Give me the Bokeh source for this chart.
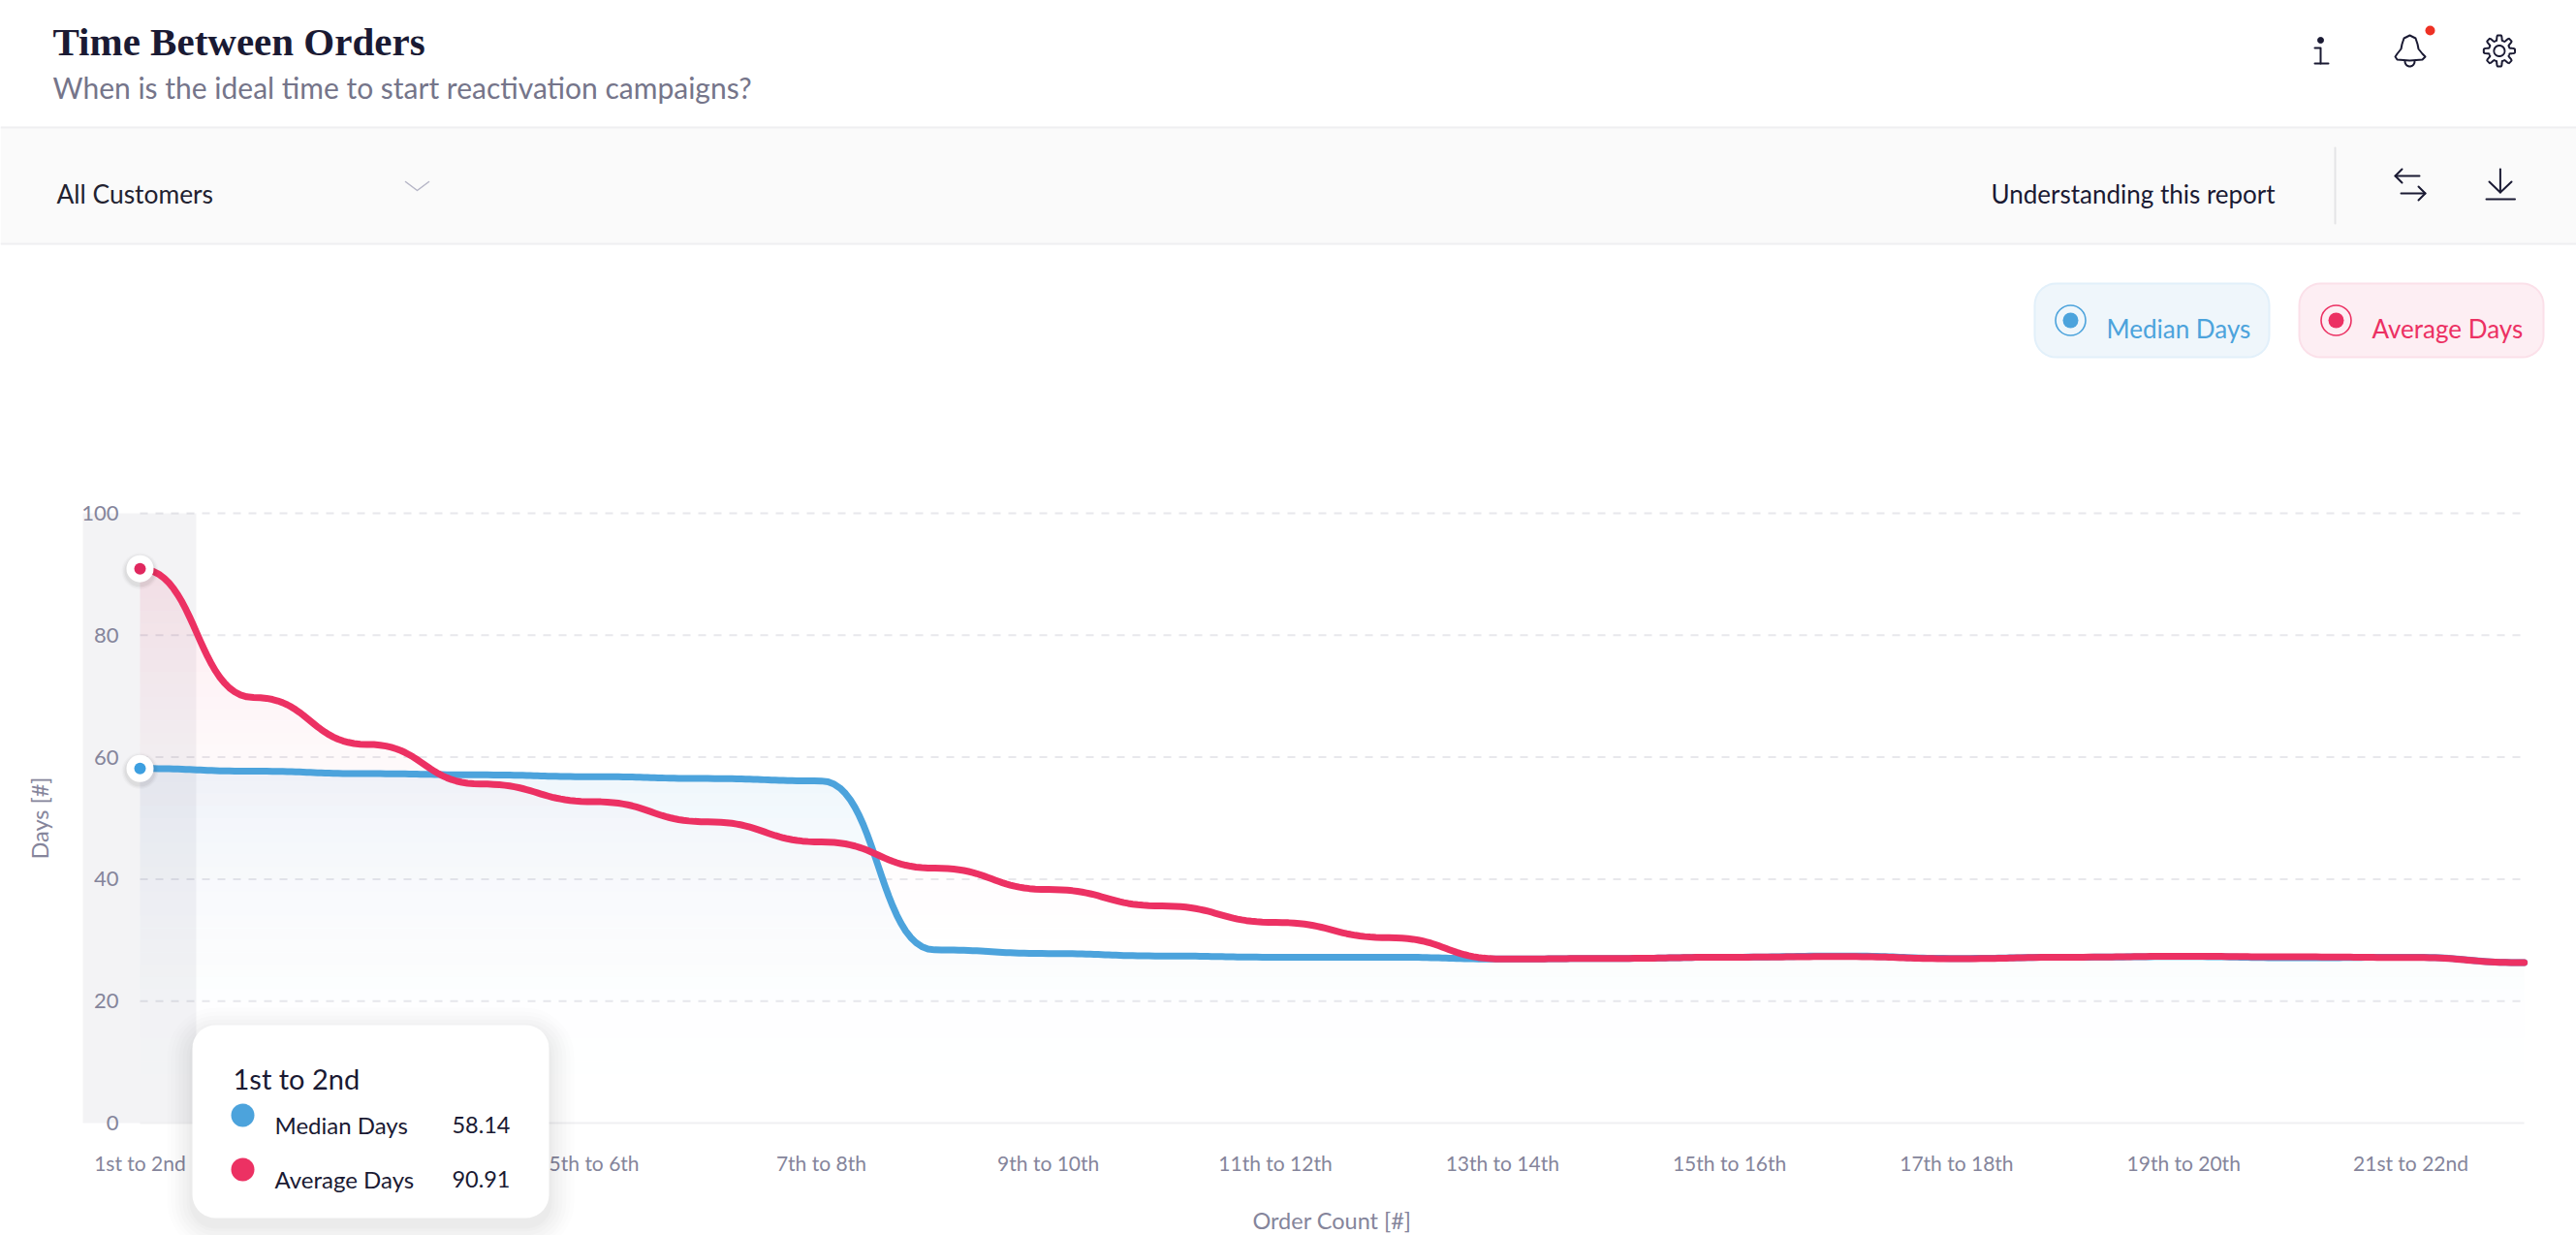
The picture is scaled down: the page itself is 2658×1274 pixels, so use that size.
import numpy as np
from bokeh.core.properties import value
from bokeh.embed import file_html
from bokeh.models import FixedTicker, LinearAxis, Range1d
from bokeh.plotting import figure
from bokeh.resources import INLINE

# ---------- data ----------
order_labels = ["1st to 2nd", "2nd to 3rd", "3rd to 4th", "4th to 5th", "5th to 6th", "6th to 7th",
                "7th to 8th", "8th to 9th", "9th to 10th", "10th to 11th", "11th to 12th", "12th to 13th",
                "13th to 14th", "14th to 15th", "15th to 16th", "16th to 17th", "17th to 18th", "18th to 19th",
                "19th to 20th", "20th to 21st", "21st to 22nd", "22nd to 23rd"]
median_days = [58.14, 57.7, 57.3, 57.1, 56.8, 56.5, 56.1, 28.4, 27.8, 27.4, 27.2,
               27.2, 26.9, 27.0, 27.2, 27.4, 27.0, 27.2, 27.3, 27.1, 27.2, 26.3]
average_days = [90.91, 69.8, 62.1, 55.6, 52.7, 49.4, 46.1, 41.8, 38.3, 35.6, 32.9,
                30.4, 26.9, 27.0, 27.2, 27.3, 26.95, 27.2, 27.35, 27.25, 27.15, 26.3]
y_ticks = [0, 20, 40, 60, 80, 100]
grid_ticks = [20, 40, 60, 80, 100]
x_tick_idx = list(range(0, 22, 2))

BLUE = "#4ca3dc"
RED = "#ec3163"
INK = "#1a1a33"
MUTED = "#85859b"
FONT = "Lato"

# page pixel -> data mapping of the plot
X0, DX = 144.0, 117.15
Y0, DY = 1158.0, 6.29
L, R, T, B = 0, 2658, 0, 1274

p = figure(width=R - L, height=B - T, output_backend="svg", toolbar_location=None,
           x_range=Range1d((L - X0) / DX, (R - X0) / DX),
           y_range=Range1d((Y0 - B) / DY, (Y0 - T) / DY),
           x_axis_location=None, y_axis_location=None, min_border=0,
           outline_line_color=None, background_fill_color="white", border_fill_color="white")
p.grid.visible = False
p.extra_x_ranges["px"] = Range1d(L, R)
p.extra_y_ranges["px"] = Range1d(B, T)
PX = dict(x_range_name="px", y_range_name="px")


def text(x, y, s, size, color, align="left", font=FONT, style="normal", level="annotation"):
    p.text(x=[x], y=[y], text=[s], text_font=value(font), text_font_size=value(f"{size}px"),
           text_color=color, text_align=align, text_baseline="alphabetic",
           text_font_style=style, level=level, **PX)


def stroke(xs, ys, color=INK, width=2.0, level="annotation"):
    p.line(xs, ys, line_color=color, line_width=width, line_cap="round", line_join="round", level=level, **PX)


def rrect(x0, y0, x1, y1, r, fill, line=None, alpha=1.0, level="annotation", lw=2):
    a = np.linspace(0, np.pi / 2, 10)
    xs = np.concatenate([x1 - r + r * np.sin(a), x1 - r + r * np.cos(a), x0 + r - r * np.sin(a), x0 + r - r * np.cos(a)])
    ys = np.concatenate([y0 + r - r * np.cos(a), y1 - r + r * np.sin(a), y1 - r + r * np.cos(a), y0 + r - r * np.sin(a)])
    p.patch(xs, ys, fill_color=fill, fill_alpha=alpha, line_color=line, line_width=lw, level=level, **PX)


def bump(values, n=24):
    """Curve through the values with level tangents at each of them."""
    xs, ys = [], []
    t = np.linspace(0, 1, n, endpoint=False)
    for i in range(len(values) - 1):
        y0, y1 = values[i], values[i + 1]
        xs.append(i + (3 * (1 - t) ** 2 * t * 0.5 + 3 * (1 - t) * t ** 2 * 0.5 + t ** 3))
        ys.append(y0 + (y1 - y0) * (3 * (1 - t) * t ** 2 + t ** 3))
    xs.append([len(values) - 1.0])
    ys.append([values[-1]])
    return np.concatenate(xs), np.concatenate(ys)


# ---------- header ----------
p.quad(left=[L], right=[R], top=[130], bottom=[252], fill_color="#fafafa", line_color=None, level="underlay", **PX)
p.quad(left=[L, L], right=[R, R], top=[130, 250], bottom=[132, 252], fill_color="#efeff1", line_color=None, level="underlay", **PX)
text(54, 42, "Time Between Orders", 41, INK, font="Liberation Serif", style="bold")
text(54, 89, "When is the ideal time to start reactivation campaigns?", 30, "#75758a")
text(58, 199, "All Customers", 26.4, "#222230")
stroke([418, 430, 442], [187, 196, 187], "#b5b5c6", 1.5)
text(2054, 199, "Understanding this report", 26, INK)
stroke([2409, 2409], [152, 230], "#e4e4e6", 2)

# info icon
p.scatter([2394], [41], size=6, color=INK, level="annotation", **PX)
stroke([2388, 2394, 2394], [49, 49, 65])
stroke([2388, 2402], [65, 65])
# bell icon
bx = np.array([2471, 2473, 2477, 2478, 2480, 2486, 2492, 2494, 2495, 2499, 2502, 2499, 2486, 2473, 2471])
by = np.array([58, 55, 50, 45, 39, 36, 39, 45, 50, 55, 58, 61, 62, 61, 58])
stroke(bx, by)
ang = np.linspace(0, np.pi, 12)
stroke(2486 + 5 * np.cos(ang), 63 + 5 * np.sin(ang))
p.ellipse([2507], [31], width=10, height=10, fill_color="#ee3124", line_color=None, level="annotation", **PX)
# gear icon
g = np.linspace(0, 2 * np.pi, 161)
gr = 13.5 + 2.6 * np.clip(2.2 * np.cos(8 * g), -1, 1)
stroke(2578.4 + gr * np.cos(g), 52 + gr * np.sin(g))
stroke(2578.4 + 5.5 * np.cos(g), 52 + 5.5 * np.sin(g))
# swap icon
stroke([2496, 2471], [181, 181]); stroke([2478, 2471, 2478], [174, 181, 188])
stroke([2477, 2502], [199, 199]); stroke([2495, 2502, 2495], [192, 199, 206])
# download icon
stroke([2579.4, 2579.4], [174, 198]); stroke([2568, 2579.4, 2591], [187, 198, 187])
stroke([2565, 2594.5], [205, 205])

# ---------- toggle pills ----------
rrect(2099, 292, 2341, 368, 22, "#eff6fb", "#e2f0fa")
rrect(2372, 292, 2624, 368, 22, "#fdeef3", "#fbe0e9")
for cx, c in ((2136, BLUE), (2410, RED)):
    p.ellipse([cx], [330], width=31, height=31, fill_color=None, line_color=c, line_width=1.6, level="annotation", **PX)
    p.ellipse([cx], [330], width=16, height=16, fill_color=c, line_color=None, level="annotation", **PX)
text(2173, 338, "Median Days", 26, BLUE)
text(2447, 338, "Average Days", 26, RED)

# ---------- chart ----------
last = len(median_days) - 1
p.segment(x0=[0] * len(grid_ticks), y0=grid_ticks, x1=[last] * len(grid_ticks), y1=grid_ticks,
          line_color="#e8e8ec", line_width=2, line_dash="8 8", level="underlay")

# hovered category band
p.quad(left=[85], right=[202], top=[529], bottom=[1158], fill_color="#1f1f4b", fill_alpha=0.055, line_color=None, **PX)

mx, my = bump(median_days)
ax, ay = bump(average_days)
edges = np.arange(0, 94, 2.0)
for lo, hi in zip(edges[:-1], edges[1:]):
    mid = (lo + hi) / 2
    if mid < max(median_days):
        p.varea(mx, np.minimum(my, lo), np.minimum(my, hi), fill_color=BLUE, fill_alpha=float(0.09 * (mid / 58) ** 2))
    p.varea(ax, np.minimum(ay, lo), np.minimum(ay, hi), fill_color=RED, fill_alpha=float(0.11 * (mid / 91) ** 3))

p.line(mx, my, line_color=BLUE, line_width=7, line_cap="round", line_join="round")
p.line(ax, ay, line_color=RED, line_width=7, line_cap="round", line_join="round")

first_x = [0]
for v, c in ((median_days[0], "#3d9fe0"), (average_days[0], "#e0285f")):
    for s, a in ((38, 0.02), (35, 0.03), (32, 0.04)):
        p.scatter(first_x, [v - 0.4], size=s, fill_color="black", fill_alpha=a, line_color=None)
    p.scatter(first_x, [v], size=28, fill_color="white", line_color=None)
    p.scatter(first_x, [v], size=12, fill_color=c, line_color=None)

xa = LinearAxis(fixed_location=0, bounds=(0, last), ticker=FixedTicker(ticks=x_tick_idx),
                major_label_overrides={i: order_labels[i] for i in x_tick_idx},
                axis_line_color="#f0f0f2", axis_line_width=2, major_tick_line_color=None, minor_tick_line_color=None,
                major_label_text_font=FONT, major_label_text_font_size="21px", major_label_text_color=MUTED,
                major_label_standoff=22, axis_label="Order Count [#]", axis_label_text_font=FONT,
                axis_label_text_font_size="23.5px", axis_label_text_font_style="normal",
                axis_label_text_color=MUTED, axis_label_standoff=30)
p.add_layout(xa, "below")
ya = LinearAxis(fixed_location=(128 - X0) / DX, bounds=(0, 100), ticker=FixedTicker(ticks=y_ticks),
                axis_line_color=None, major_tick_line_color=None, minor_tick_line_color=None,
                major_label_text_font=FONT, major_label_text_font_size="22px", major_label_text_color=MUTED,
                major_label_standoff=0, axis_label="Days [#]", axis_label_text_font=FONT,
                axis_label_text_font_size="23.5px", axis_label_text_font_style="normal",
                axis_label_text_color=MUTED, axis_label_standoff=26)
ya.major_label_text_align = "left"
p.add_layout(ya, "left")

# ---------- hover card ----------
for d, a in ((26, 0.008), (22, 0.009), (18, 0.010), (14, 0.011), (10, 0.012), (6, 0.013), (3, 0.014)):
    rrect(198 - d, 1057 - d + 8, 566 + d, 1256 + d + 8, 24 + d, "black", alpha=a, level="overlay")
rrect(198, 1057, 566, 1256, 24, "white", level="overlay")
text(240, 1112, order_labels[0], 29, INK, level="overlay")
for yy, base, name, val, c in ((1150, 1160, "Median Days", median_days[0], BLUE),
                               (1206, 1216, "Average Days", average_days[0], RED)):
    p.ellipse([250], [yy], width=24, height=24, fill_color=c, line_color=None, level="overlay", **PX)
    text(283, base, name, 24, INK, level="overlay")
    text(526, base, f"{val:.2f}", 23.5, INK, align="right", level="overlay")

open("out.html", "w").write(file_html(p, INLINE))
